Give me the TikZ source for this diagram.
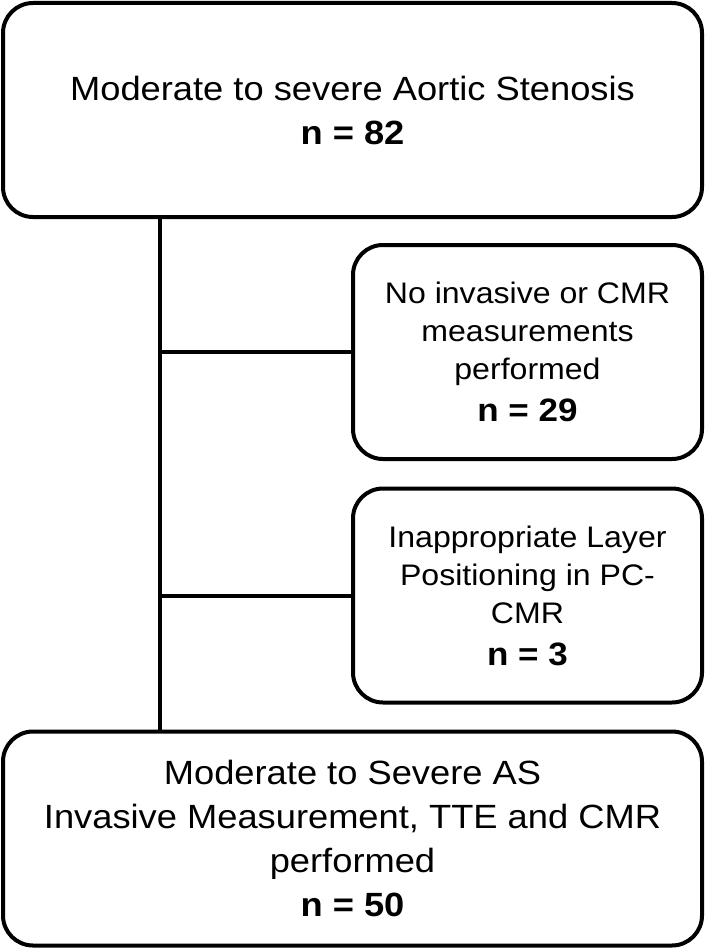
\documentclass[tikz,border=0pt]{standalone}
\usepackage{fontspec}
\setmainfont{Liberation Sans}[FakeStretch=1.08]
\usepackage{tikz}

\tikzset{
    box/.style = {draw, line width = 4pt, rounded corners = 30pt, inner sep = 0pt, align = center},
    mainbox/.style = {box, minimum width = 699pt, minimum height = 214pt, font = \fontsize{33.6}{44}\selectfont},
    sidebox/.style = {box, minimum width = 349pt, minimum height = 214pt, font = \fontsize{29.7}{38}\selectfont},
    link/.style = {line width = 4pt}
}
\newcommand{\countbig}[1]{\textbf{#1}}
\newcommand{\countside}[1]{{\fontsize{32.4}{38}\selectfont\textbf{#1}}}

\begin{document}
\begin{tikzpicture}[x = 1pt, y = -1pt]
    \useasboundingbox (0,0) rectangle (708,950);
    % boxes
    \node [mainbox] (start) at (352.5,110) {Moderate to severe Aortic Stenosis\\ \countbig{n = 82}};
    \node [sidebox] (noinv) at (527.5,352) {No invasive or CMR\\ measurements\\ performed\\[4pt] \countside{n = 29}};
    \node [sidebox] (layer) at (527.5,595.5) {Inappropriate Layer\\ Positioning in PC-\\ CMR\\[4pt] \countside{n = 3}};
    \node [mainbox] (final) at (352.5,838.5) {Moderate to Severe AS\\ Invasive Measurement, TTE and CMR\\ performed\\ \countbig{n = 50}};
    % connectors
    \coordinate (spine) at (160,0);
    \draw [link] (start.south -| spine) -- (final.north -| spine);
    \draw [link] (noinv.west) -- (noinv.west -| spine);
    \draw [link] (layer.west) -- (layer.west -| spine);
\end{tikzpicture}
\end{document}
